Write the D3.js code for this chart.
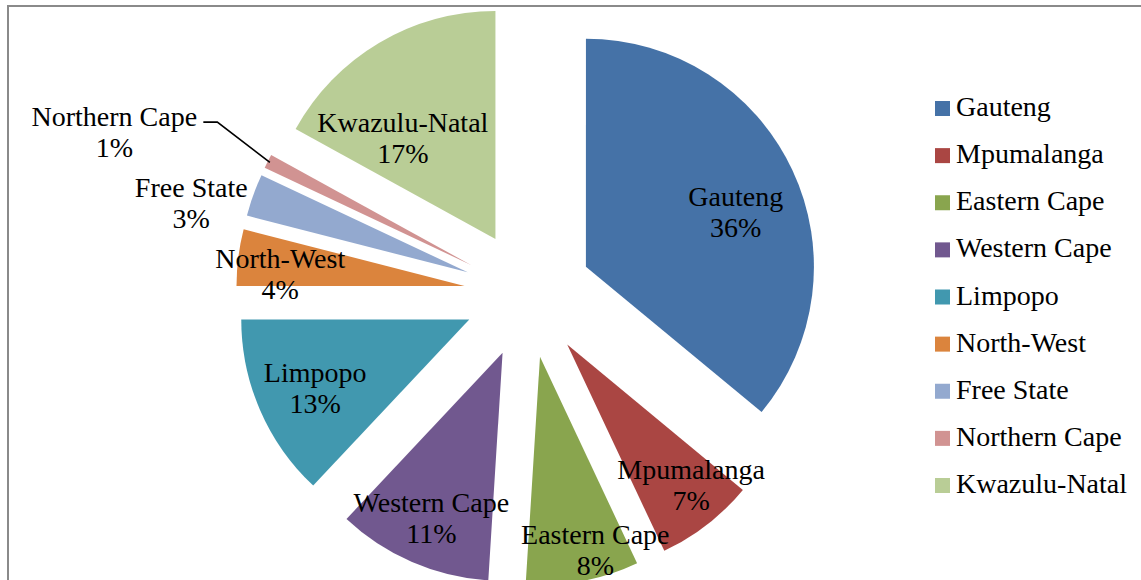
<!DOCTYPE html>
<html lang="en">
<head>
    <meta charset="UTF-8">
    <title>Provinces pie</title>
    <script src="https://d3js.org/d3.v7.min.js"></script>
    <style>
        body { margin: 0; background: #fff; }
        text { font-family: "Liberation Serif", "Times New Roman", serif; fill: #000; }
    </style>
</head>
<body>
<div id="chart"></div>
<script>
    // data
    const regions = ["Gauteng", "Mpumalanga", "Eastern Cape", "Western Cape", "Limpopo",
        "North-West", "Free State", "Northern Cape", "Kwazulu-Natal"];
    const shares = [36, 7, 8, 11, 13, 4, 3, 1, 17];

    const colours = ["#4572A7", "#AA4643", "#89A54E", "#71588F", "#4198AF",
        "#DB843D", "#93A9CF", "#D19392", "#B9CD96"];

    // label placement from each slice tip: [angle in degrees, fraction of radius]
    const labelPolar = [[69.8, 0.70], [138.5, 0.82], [164, 0.88], [203.3, 0.79], [246, 0.74],
        [273.7, 0.81], [284, 1.25], [290.5, 1.67], [317.4, 0.60]];

    function drawChart(width, height) {
        const svg = d3.select("#chart").append("svg")
            .attr("width", width)
            .attr("height", height)
            .attr("viewBox", [0, 0, width, height]);

        // chart frame (only top and left edges are inside the crop)
        svg.append("rect")
            .attr("x", 8).attr("y", 6)
            .attr("width", width + 20).attr("height", height + 20)
            .attr("fill", "none")
            .attr("stroke", "#8a8a8a")
            .attr("stroke-width", 2);

        const cx = 528, cy = 294, radius = 228, explode = 64;
        const fontSize = 28, lineGap = 31;

        const pie = d3.pie().sort(null).value(d => d)(shares);
        const arc = d3.arc().innerRadius(0).outerRadius(radius);
        const tip = d => {
            const a = (d.startAngle + d.endAngle) / 2;
            return [Math.sin(a) * explode, -Math.cos(a) * explode];
        };

        const g = svg.append("g").attr("transform", `translate(${cx},${cy})`);

        g.selectAll("path")
            .data(pie)
            .join("path")
            .attr("transform", d => `translate(${tip(d)})`)
            .attr("d", arc)
            .attr("fill", (d, i) => colours[i]);

        // leader line for the thin Northern Cape slice
        const nc = pie[7];
        const ncMid = (nc.startAngle + nc.endAngle) / 2;
        const [nx, ny] = tip(nc);
        const from = [nx + Math.sin(ncMid) * radius * 0.99, ny - Math.cos(ncMid) * radius * 0.99];
        const lp = labelPolar[7];
        const la = lp[0] * Math.PI / 180;
        const lc = [nx + Math.sin(la) * radius * lp[1], ny - Math.cos(la) * radius * lp[1]];
        g.append("polyline")
            .attr("points", [from, [lc[0] + 103, lc[1] - 9.5], [lc[0] + 89, lc[1] - 9.5]].map(p => p.join(",")).join(" "))
            .attr("fill", "none")
            .attr("stroke", "#000")
            .attr("stroke-width", 1.6);

        const labels = g.selectAll("text.lbl")
            .data(pie)
            .join("text")
            .attr("class", "lbl")
            .attr("font-size", fontSize)
            .attr("text-anchor", "middle")
            .attr("transform", (d, i) => {
                const [tx, ty] = tip(d);
                const a = labelPolar[i][0] * Math.PI / 180;
                const rr = radius * labelPolar[i][1];
                return `translate(${tx + Math.sin(a) * rr},${ty - Math.cos(a) * rr})`;
            });
        labels.append("tspan").attr("x", 0).attr("y", -6).text((d, i) => regions[i]);
        labels.append("tspan").attr("x", 0).attr("y", -6 + lineGap).text(d => d.data + "%");

        // legend
        const legendY = d3.scalePoint().domain(regions).range([108.5, 485.5]);
        const legend = svg.append("g")
            .selectAll("g")
            .data(regions)
            .join("g")
            .attr("transform", d => `translate(935,${legendY(d)})`);
        legend.append("rect")
            .attr("x", 0).attr("y", -7.5)
            .attr("width", 15).attr("height", 15)
            .attr("fill", (d, i) => colours[i]);
        legend.append("text")
            .attr("x", 21).attr("y", 7.5)
            .attr("font-size", fontSize)
            .text(d => d);

        return svg.node();
    }

    document.addEventListener("DOMContentLoaded", () => {
        drawChart(1141, 580);
    });
</script>
</body>
</html>
